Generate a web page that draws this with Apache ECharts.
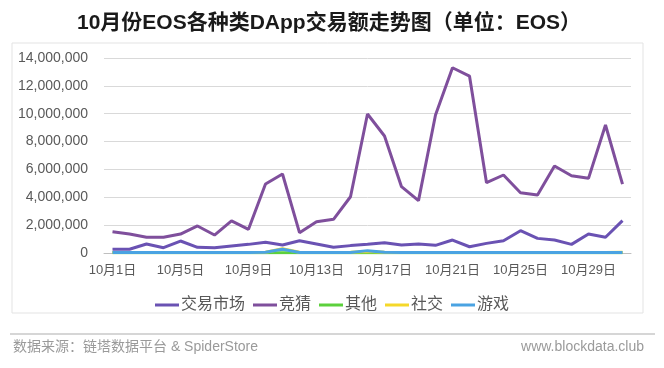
<!DOCTYPE html>
<html>
<head>
<meta charset="utf-8">
<script src="https://cdn.jsdelivr.net/npm/echarts@6/dist/echarts.min.js"></script>
<style>
html,body{margin:0;padding:0;background:#fff;}
#c{width:664px;height:368px;}
</style>
</head>
<body>
<div id="c"></div>
<script>
const categories = [];
for (let d = 1; d <= 31; d++) categories.push('10月' + d + '日');

const seriesNames = ['交易市场', '竞猜', '其他', '社交', '游戏'];
const market = [270000,270000,650000,380000,860000,410000,380000,500000,620000,770000,570000,880000,650000,410000,530000,620000,740000,570000,650000,550000,930000,450000,690000,880000,1600000,1050000,930000,620000,1360000,1130000,2320000];
const guess = [1530000,1360000,1130000,1130000,1360000,1940000,1290000,2300000,1700000,4950000,5670000,1460000,2250000,2420000,4040000,9980000,8400000,4760000,3760000,9910000,13300000,12700000,5050000,5600000,4330000,4160000,6250000,5550000,5360000,9190000,4950000];
const other = [10000,10000,10000,10000,10000,10000,10000,10000,10000,10000,20000,10000,10000,10000,10000,10000,10000,10000,10000,10000,10000,10000,10000,10000,10000,10000,10000,10000,10000,10000,20000];
const social = [40000,40000,40000,40000,40000,40000,40000,40000,40000,60000,300000,50000,40000,40000,60000,110000,50000,40000,40000,40000,40000,40000,40000,40000,40000,40000,40000,40000,40000,40000,50000];
const game = [30000,30000,30000,30000,30000,30000,30000,30000,30000,50000,270000,40000,30000,30000,40000,170000,60000,30000,30000,30000,30000,30000,30000,30000,30000,30000,30000,30000,30000,30000,30000];
const colors = ['#6a52b3', '#7f4f9c', '#5cd03c', '#f5d82a', '#4aa3e2'];

const chart = echarts.init(document.getElementById('c'), null, {renderer: 'canvas'});
const dataSets = [market, guess, other, social, game];
const fontFam = '"Liberation Sans", Arial, "Noto Sans CJK SC", sans-serif';
chart.setOption({
  animation: false,
  color: colors,
  textStyle: {fontFamily: fontFam},
  title: {
    text: '10月份EOS各种类DApp交易额走势图（单位：EOS）',
    left: 72, top: 8,
    textStyle: {fontSize: 21, fontWeight: 'bold', color: '#1a1a1a', fontFamily: fontFam}
  },
  legend: {
    data: seriesNames,
    left: 'center', top: 292,
    itemWidth: 24, itemHeight: 3, itemGap: 8,
    icon: 'rect',
    textStyle: {fontSize: 16, color: '#595959', padding: [0, 0, 0, -3]},
  },
  grid: {left: 104, right: 33, top: 58, bottom: 115, containLabel: false},
  xAxis: {
    type: 'category',
    data: categories,
    boundaryGap: true,
    axisLine: {lineStyle: {color: '#bfbfbf', width: 1}},
    axisTick: {interval: 3, length: 5, lineStyle: {color: '#bfbfbf'}},
    axisLabel: {interval: 3, fontSize: 13, color: '#595959', margin: 11}
  },
  yAxis: {
    type: 'value',
    min: 0, max: 14000000, interval: 2000000,
    axisLine: {show: false},
    axisTick: {show: false},
    splitLine: {lineStyle: {color: '#d9d9d9', width: 1}},
    axisLabel: {fontSize: 14, color: '#595959', margin: 16,
      formatter: v => v.toLocaleString('en-US')}
  },
  series: seriesNames.map((n, i) => ({
    name: n, type: 'line', data: dataSets[i],
    showSymbol: false, symbol: 'none',
    lineStyle: {width: 3, color: colors[i]},
    itemStyle: {color: colors[i]}
  })),
  graphic: [
    {type: 'rect', shape: {x: 12, y: 43, width: 631, height: 270}, style: {fill: 'none', stroke: '#e3e3e3', lineWidth: 1}, silent: true},
    {type: 'line', shape: {x1: 10, y1: 334, x2: 655, y2: 334}, style: {stroke: '#c8c8c8', lineWidth: 1.5}, silent: true},
    {type: 'text', left: 13, top: 340, style: {text: '数据来源：链塔数据平台 & SpiderStore', fontSize: 14, fill: '#9a9a9a', fontFamily: fontFam}},
    {type: 'text', right: 20, top: 340, style: {text: 'www.blockdata.club', fontSize: 14, fill: '#9a9a9a', fontFamily: fontFam}}
  ]
});
</script>
</body>
</html>
